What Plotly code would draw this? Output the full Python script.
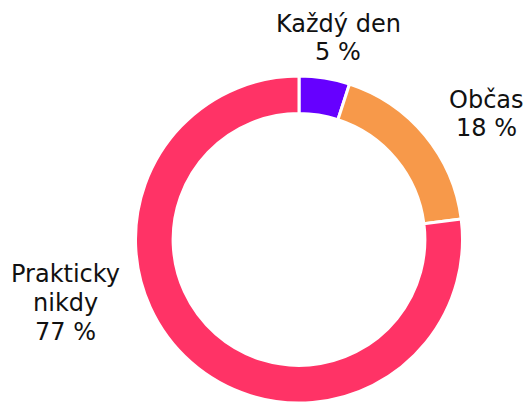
import plotly.graph_objects as go

categories = ["Každý den", "Občas", "Prakticky nikdy"]
values = [5, 18, 77]
label_lines = [["Každý den"], ["Občas"], ["Prakticky", "nikdy"]]
colors = ["#6600ff", "#f7994a", "#ff3366"]

W, H = 526, 403

fig = go.Figure()
fig.add_trace(go.Pie(
    labels=categories,
    values=values,
    hole=0.77,
    sort=False,
    direction="clockwise",
    rotation=0,
    textinfo="none",
    hoverinfo="label+percent",
    marker=dict(colors=colors, line=dict(color="white", width=3)),
    domain=dict(x=[134 / W, 464 / W], y=[0, (H - 76) / H]),
    showlegend=False,
))

# label positions in pixels: x center, y center of first line; line step
label_pos = [(338, 23.5), (486, 99.5), (65, 273.5)]
step = 29
for lines, v, (px, py) in zip(label_lines, values, label_pos):
    all_lines = lines + [f"{v} %"]
    for i, t in enumerate(all_lines):
        fig.add_annotation(
            text=t,
            x=px / W, y=1 - (py + i * step) / H, xref="paper", yref="paper",
            xanchor="center", yanchor="middle", showarrow=False,
            font=dict(family="DejaVu Sans, Verdana, sans-serif", size=24, color="#111111"),
            align="center",
        )

fig.update_layout(
    width=W, height=H,
    margin=dict(l=0, r=0, t=0, b=0),
    paper_bgcolor="white", plot_bgcolor="white",
)

fig.write_html("out.html", config={"displayModeBar": False},
               post_script="document.body.style.margin='0';")
